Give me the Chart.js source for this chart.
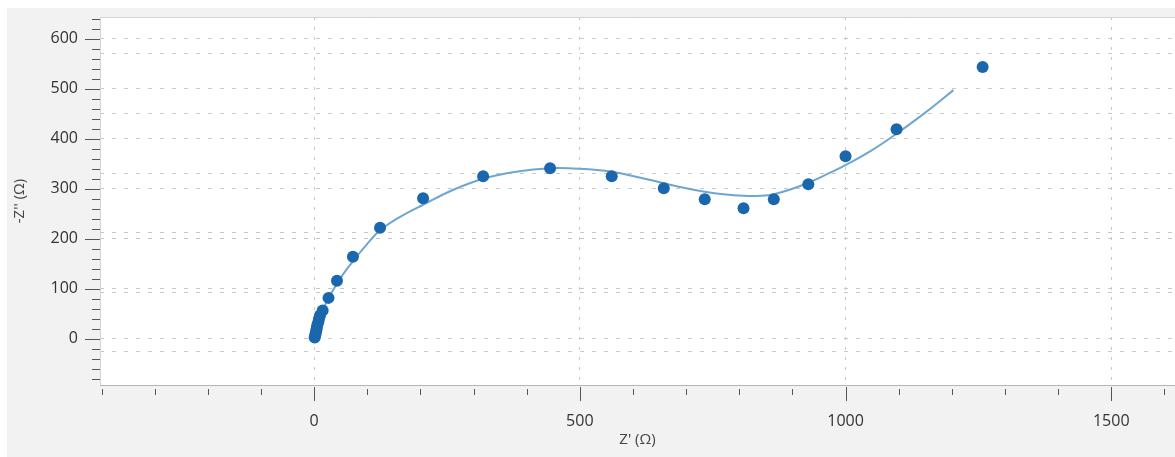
<!DOCTYPE html>
<html>
<head>
<meta charset="utf-8">
<script src="https://cdn.jsdelivr.net/npm/chart.js@4.4.1/dist/chart.umd.min.js"></script>
<style>
  body { margin: 0; background: #fff; }
  canvas { display: block; }
</style>
</head>
<body>
<canvas id="grafico" width="1175" height="457"></canvas>
<script>
// measured impedance points
const zReal = [1, 2, 3, 4, 5, 6, 8, 9, 11, 16, 27, 43, 73, 124, 205, 318, 444, 560, 658, 735, 808, 865, 930, 1000, 1096, 1258];
const zImag = [3, 7, 12, 17, 22, 28, 34, 40, 47, 57, 82, 116, 164, 222, 281, 325, 341, 325, 301, 279, 261, 279, 309, 365, 419, 543];

// fitted curve
const fitReal = [0, 4, 10, 20, 36, 55, 75, 100, 124, 162, 205, 260, 318, 380, 444, 500, 560, 610, 658, 700, 735, 770, 808, 840, 865, 900, 930, 965, 1000, 1050, 1096, 1150, 1203];
const fitImag = [0, 15, 38, 66, 98, 130, 158, 190, 217, 244, 268, 297, 320, 334, 341, 340, 334, 323, 311, 301, 294, 289, 286, 286, 289, 300, 312, 329, 347, 377, 410, 452, 497];

const xTicks = [0, 500, 1000, 1500];
const yTicks = [0, 100, 200, 300, 400, 500, 600];
const y2Ticks = [0, 10, 20, 30, 40, 50];

const fonte = '"Open Sans", "Noto Sans", sans-serif';

const pontos = zReal.map((x, i) => ({ x, y: zImag[i] }));
const curva = fitReal.map((x, i) => ({ x, y: fitImag[i] }));

function semPadding(s) {
  s.paddingTop = 0;
  s.paddingBottom = 0;
  s.paddingLeft = 0;
  s.paddingRight = 0;
}

const fundo = {
  id: 'fundo',
  beforeDraw(chart) {
    const { ctx, chartArea: a, width, height } = chart;
    ctx.save();
    ctx.fillStyle = '#ffffff';
    ctx.fillRect(0, 0, width, height);
    ctx.fillStyle = '#f2f2f2';
    ctx.fillRect(7, 8, width - 7, height - 8);
    ctx.fillStyle = '#ffffff';
    ctx.fillRect(a.left, a.top, a.right - a.left, a.bottom - a.top);
    ctx.restore();
  },
  afterDraw(chart) {
    const { ctx, chartArea: a, scales } = chart;
    ctx.save();
    ctx.lineWidth = 1;
    ctx.strokeStyle = '#d4d4d4';
    ctx.beginPath();
    ctx.moveTo(a.left, a.top + 0.5);
    ctx.lineTo(a.right, a.top + 0.5);
    ctx.moveTo(a.left + 0.5, a.top);
    ctx.lineTo(a.left + 0.5, a.bottom);
    ctx.stroke();
    ctx.strokeStyle = '#b4b4b4';
    ctx.beginPath();
    ctx.moveTo(a.left, a.bottom + 0.5);
    ctx.lineTo(a.right, a.bottom + 0.5);
    ctx.stroke();

    // marcas dos eixos (maiores e menores)
    ctx.strokeStyle = '#555';
    ctx.beginPath();
    for (let v = -400; v <= 1600; v += 100) {
      const px = Math.round(scales.x.getPixelForValue(v)) + 0.5;
      const major = v % 500 === 0;
      ctx.moveTo(px, a.bottom + (major ? 2 : 4));
      ctx.lineTo(px, a.bottom + (major ? 16 : 10));
    }
    for (let v = -80; v <= 640; v += 20) {
      const py = Math.round(scales.y.getPixelForValue(v)) + 0.5;
      const major = v % 100 === 0;
      ctx.moveTo(a.left - (major ? 15 : 8), py);
      ctx.lineTo(a.left, py);
    }
    ctx.stroke();
    ctx.restore();
  }
};

new Chart(document.getElementById('grafico'), {
  type: 'scatter',
  data: {
    datasets: [
      {
        label: 'medido',
        data: pontos,
        backgroundColor: '#1a67ae',
        borderColor: '#1a67ae',
        pointRadius: 6,
        pointHoverRadius: 6,
        borderWidth: 0
      },
      {
        label: 'ajuste',
        data: curva,
        showLine: true,
        pointRadius: 0,
        borderColor: '#6fa6cf',
        borderWidth: 2,
        tension: 0.4
      }
    ]
  },
  options: {
    responsive: false,
    devicePixelRatio: 1,
    animation: false,
    layout: { autoPadding: false, padding: { top: 17, right: 0, left: 0, bottom: 0 } },
    plugins: {
      legend: { display: false },
      tooltip: { enabled: false }
    },
    scales: {
      x: {
        type: 'linear',
        min: -403,
        max: 1620,
        afterBuildTicks: s => { s.ticks = xTicks.map(v => ({ value: v })); },
        afterFit: s => { s.height = 72; semPadding(s); },
        ticks: {
          padding: 27,
          color: '#333',
          font: { family: fonte, size: 16 },
          maxRotation: 0,
          autoSkip: false,
          callback: v => String(v)
        },
        grid: {
          drawTicks: false,
          color: '#c8c8c8'
        },
        border: { display: false, dash: [3, 7] },
        title: {
          display: true,
          text: "Z' (Ω)",
          color: '#444',
          font: { family: fonte, size: 15 },
          padding: { top: 0, bottom: 8 }
        }
      },
      y: {
        type: 'linear',
        min: -92,
        max: 643,
        afterBuildTicks: s => { s.ticks = yTicks.map(v => ({ value: v })); },
        afterFit: s => { s.width = 100; semPadding(s); },
        ticks: {
          padding: 22,
          color: '#333',
          font: { family: fonte, size: 16 },
          callback: v => String(v)
        },
        grid: {
          drawTicks: false,
          color: '#c8c8c8'
        },
        border: { display: false, dash: [4, 8] },
        title: {
          display: true,
          text: "-Z'' (Ω)",
          color: '#444',
          font: { family: fonte, size: 15 },
          padding: { top: 11, bottom: 0 }
        }
      },
      y2: {
        type: 'linear',
        position: 'right',
        min: -5.54,
        max: 56.2,
        afterBuildTicks: s => { s.ticks = y2Ticks.map(v => ({ value: v })); },
        afterFit: s => { s.width = 0; semPadding(s); },
        ticks: { display: false },
        grid: {
          drawTicks: false,
          color: '#c8c8c8'
        },
        border: { display: false, dash: [4, 8] }
      }
    }
  },
  plugins: [fundo]
});
</script>
</body>
</html>
